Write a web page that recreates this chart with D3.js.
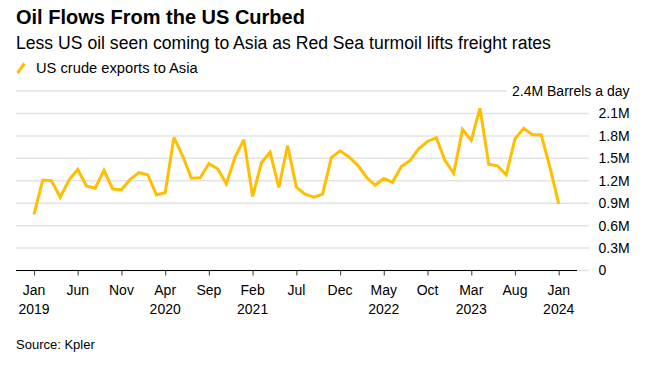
<!DOCTYPE html>
<html>
<head>
<meta charset="utf-8">
<script src="https://cdn.jsdelivr.net/npm/d3@7"></script>
<style>
  html, body { margin: 0; padding: 0; background: #fff; }
  svg { display: block; font-family: "Liberation Sans", Arial, sans-serif; }
</style>
</head>
<body>
<svg id="chart" width="646" height="366"></svg>
<script>
// ---- data ----
const startMonth = "2019-01";
const exportsToAsia = [
  0.75, 1.21, 1.20, 0.98, 1.21, 1.35, 1.13, 1.10, 1.34, 1.09, 1.08, 1.22,
  1.31, 1.28, 1.01, 1.04, 1.78, 1.53, 1.235, 1.24, 1.43, 1.36, 1.16, 1.52,
  1.75, 0.99, 1.44, 1.58, 1.11, 1.67, 1.115, 1.02, 0.98, 1.02, 1.51, 1.60,
  1.52, 1.41, 1.25, 1.14, 1.23, 1.18, 1.39, 1.47, 1.63, 1.725, 1.775, 1.47,
  1.30, 1.89, 1.74, 2.17, 1.42, 1.40, 1.28, 1.76, 1.90, 1.815, 1.815, 1.38,
  0.89
];
const yTicks = [0, 0.3, 0.6, 0.9, 1.2, 1.5, 1.8, 2.1, 2.4];
const yTickLabels = ["0", "0.3M", "0.6M", "0.9M", "1.2M", "1.5M", "1.8M", "2.1M", "2.4M Barrels a day"];
const xTickMonths = [0, 5, 10, 15, 20, 25, 30, 35, 40, 45, 50, 55, 60];
const title = "Oil Flows From the US Curbed";
const subtitle = "Less US oil seen coming to Asia as Red Sea turmoil lifts freight rates";
const legendLabel = "US crude exports to Asia";
const source = "Source: Kpler";

// ---- build ----
const parse = d3.timeParse("%Y-%m");
const t0 = parse(startMonth);
const dates = exportsToAsia.map((_, i) => d3.timeMonth.offset(t0, i));
const data = exportsToAsia.map((v, i) => ({ i, date: dates[i], v }));

const svg = d3.select("#chart");
const yellow = "#ffbf00";

const x = d3.scaleLinear().domain([0, exportsToAsia.length - 1]).range([34, 558.7]);
const y = d3.scaleLinear().domain([0, 2.4]).range([270.5, 91]);

// titles
svg.append("text").attr("x", 16).attr("y", 24)
  .attr("font-size", 20).attr("font-weight", "bold").attr("fill", "#000")
  .text(title);
svg.append("text").attr("x", 16).attr("y", 49)
  .attr("font-size", 17.6).attr("fill", "#000")
  .text(subtitle);
svg.append("line").attr("x1", 17.5).attr("y1", 73).attr("x2", 24.5).attr("y2", 63.5)
  .attr("stroke", yellow).attr("stroke-width", 3);
svg.append("text").attr("x", 36).attr("y", 73)
  .attr("font-size", 14.7).attr("fill", "#000")
  .text(legendLabel);

// gridlines
const grid = svg.append("g");
yTicks.forEach((t, k) => {
  const isTop = k === yTicks.length - 1;
  grid.append("line")
    .attr("x1", 16).attr("x2", isTop ? 507 : 589)
    .attr("y1", y(t)).attr("y2", y(t))
    .attr("stroke", "#e3e3e3").attr("stroke-width", 1.5);
});

// y labels
yTicks.forEach((t, k) => {
  const isTop = k === yTicks.length - 1;
  svg.append("text")
    .attr("x", isTop ? 512 : 598.5)
    .attr("y", y(t)).attr("dy", "0.35em")
    .attr("font-size", 14).attr("fill", "#000")
    .text(yTickLabels[k]);
});

// x axis
const xAxis = d3.axisBottom(x)
  .tickValues(xTickMonths)
  .tickSize(5)
  .tickFormat(() => "");
const ax = svg.append("g").attr("transform", `translate(0,${y(0)})`).call(xAxis);
ax.select(".domain").remove();
ax.selectAll(".tick line").attr("stroke", "#555").attr("stroke-width", 1.2);
svg.append("line").attr("x1", 16).attr("x2", 577).attr("y1", y(0)).attr("y2", y(0))
  .attr("stroke", "#000").attr("stroke-width", 1.2);

const fmtM = d3.timeFormat("%b");
const fmtY = d3.timeFormat("%Y");
let lastYear = null;
xTickMonths.forEach(m => {
  const d = dates[m];
  const g = svg.append("g").attr("transform", `translate(${x(m)},0)`);
  g.append("text").attr("y", 295).attr("text-anchor", "middle")
    .attr("font-size", 14).attr("fill", "#000").text(fmtM(d));
  const yr = fmtY(d);
  if (yr !== lastYear) {
    g.append("text").attr("y", 313.5).attr("text-anchor", "middle")
      .attr("font-size", 14).attr("fill", "#000").text(yr);
    lastYear = yr;
  }
});

// line
const line = d3.line().x(d => x(d.i)).y(d => y(d.v));
svg.append("path").datum(data)
  .attr("d", line)
  .attr("fill", "none").attr("stroke", yellow)
  .attr("stroke-width", 3).attr("stroke-linejoin", "miter").attr("stroke-miterlimit", 3);

// source
svg.append("text").attr("x", 16).attr("y", 349)
  .attr("font-size", 13).attr("fill", "#000")
  .text(source);
</script>
</body>
</html>
